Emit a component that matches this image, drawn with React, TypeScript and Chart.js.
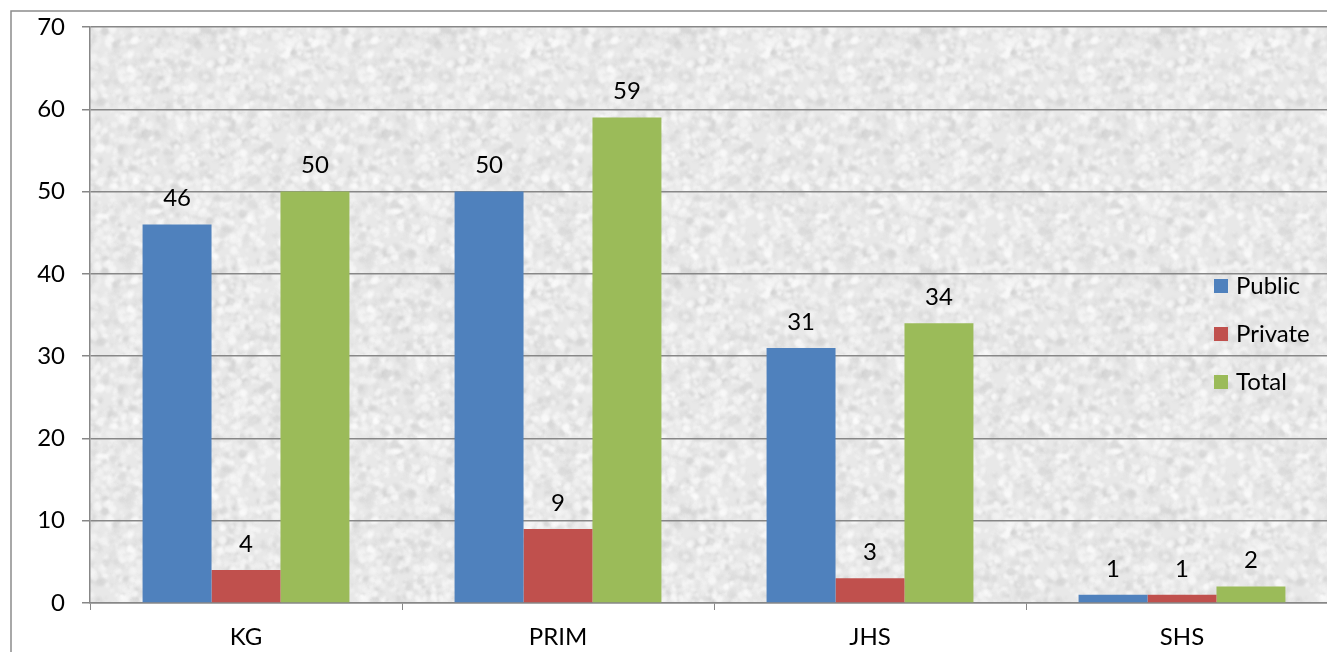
import React, { useEffect, useRef } from "react";
import { Chart, registerables } from "chart.js";

Chart.register(...registerables);

// School counts by level and ownership
const categories = ["KG", "PRIM", "JHS", "SHS"];
const publicSchools = [46, 50, 31, 1];
const privateSchools = [4, 9, 3, 1];
const totalSchools = [50, 59, 34, 2];
const seriesLabels = ["Public", "Private", "Total"];
const seriesColors = ["#4F81BD", "#C0504D", "#9BBB59"];

const FONT = "Lato, 'Liberation Sans', sans-serif";
const AXIS_GRAY = "#878787";

// Seeded generator so the granite texture is the same on every render
function makeRng(seed: number) {
  let s = seed >>> 0;
  return () => {
    s = (s * 1664525 + 1013904223) >>> 0;
    return s / 4294967296;
  };
}

function makeGranite(): HTMLCanvasElement {
  const size = 240;
  const c = document.createElement("canvas");
  c.width = size;
  c.height = size;
  const g = c.getContext("2d")!;
  g.fillStyle = "#e8e8e8";
  g.fillRect(0, 0, size, size);
  const rnd = makeRng(12345);
  g.filter = "blur(1.2px)";
  for (let i = 0; i < 2600; i++) {
    const x = rnd() * size;
    const y = rnd() * size;
    const r = 1 + rnd() * 3.5;
    const light = rnd() < 0.6;
    const v = light ? 244 + Math.floor(rnd() * 11) : 205 + Math.floor(rnd() * 20);
    g.fillStyle = `rgba(${v},${v},${v},${0.35 + rnd() * 0.4})`;
    for (const dx of [-size, 0, size]) {
      for (const dy of [-size, 0, size]) {
        g.beginPath();
        g.ellipse(x + dx, y + dy, r, r * (0.6 + rnd() * 0.6), rnd() * Math.PI, 0, Math.PI * 2);
        g.fill();
      }
    }
  }
  return c;
}

const plotBackground = {
  id: "plotBackground",
  beforeDraw(chart: any) {
    const { ctx, chartArea } = chart;
    const pattern = ctx.createPattern(makeGranite(), "repeat");
    ctx.save();
    ctx.fillStyle = pattern;
    ctx.fillRect(chartArea.left, chartArea.top, chartArea.right - chartArea.left, chartArea.bottom - chartArea.top);
    // outer frame of the chart object
    ctx.strokeStyle = "#8c8c8c";
    ctx.lineWidth = 1.5;
    ctx.strokeRect(11, 11, chart.width + 40, chart.height + 40);
    ctx.restore();
  },
};

const valueLabels = {
  id: "valueLabels",
  afterDatasetsDraw(chart: any) {
    const { ctx } = chart;
    ctx.save();
    ctx.font = `24px ${FONT}`;
    ctx.fillStyle = "#000";
    ctx.textAlign = "center";
    ctx.textBaseline = "middle";
    chart.data.datasets.forEach((ds: any, i: number) => {
      const meta = chart.getDatasetMeta(i);
      meta.data.forEach((el: any, j: number) => {
        ctx.fillText(String(ds.data[j]), el.x, el.y - 26);
      });
    });
    ctx.restore();
  },
};

const sideLegend = {
  id: "sideLegend",
  afterDraw(chart: any) {
    const { ctx } = chart;
    ctx.save();
    ctx.font = `24px ${FONT}`;
    ctx.textAlign = "left";
    ctx.textBaseline = "middle";
    chart.data.datasets.forEach((ds: any, i: number) => {
      const cy = 286 + i * 48;
      ctx.fillStyle = ds.backgroundColor;
      ctx.fillRect(1214, cy - 7, 14, 14);
      ctx.fillStyle = "#000";
      ctx.fillText(ds.label, 1236, cy);
    });
    ctx.restore();
  },
};

export default function App() {
  const ref = useRef<HTMLCanvasElement | null>(null);

  useEffect(() => {
    document.body.style.margin = "0";
    const canvas = ref.current!;
    const chart = new Chart(canvas, {
      type: "bar",
      data: {
        labels: categories,
        datasets: [publicSchools, privateSchools, totalSchools].map((d, i) => ({
          label: seriesLabels[i],
          data: d,
          backgroundColor: seriesColors[i],
          borderWidth: 0,
          categoryPercentage: 0.663,
          barPercentage: 1,
        })),
      },
      options: {
        responsive: false,
        animation: false,
        layout: { padding: { top: 27, left: 0, right: 0, bottom: 0 } },
        plugins: { legend: { display: false }, tooltip: { enabled: false } },
        scales: {
          x: {
            grid: {
              drawOnChartArea: false,
              color: AXIS_GRAY,
              tickLength: 7,
              offset: true,
            },
            border: { color: AXIS_GRAY, width: 1.5 },
            ticks: { font: { family: FONT, size: 24 }, color: "#000", padding: 13 },
            afterFit(scale: any) {
              scale.height = 49;
              scale.paddingLeft = 0;
              scale.paddingRight = 0;
            },
          },
          y: {
            min: 0,
            max: 70,
            ticks: { stepSize: 10, font: { family: FONT, size: 24 }, color: "#000", padding: 17 },
            grid: { color: AXIS_GRAY, lineWidth: 1.5, tickLength: 8 },
            border: { color: AXIS_GRAY, width: 1.5 },
            afterFit(scale: any) {
              scale.width = 90;
              scale.paddingTop = 0;
              scale.paddingBottom = 0;
            },
          },
        },
      },
      plugins: [plotBackground, valueLabels, sideLegend],
    });
    return () => chart.destroy();
  }, []);

  return (
    <div style={{ position: "absolute", left: 0, top: 0, width: 1327, height: 652, overflow: "hidden", background: "#fff" }}>
      <canvas ref={ref} width={1338} height={652} style={{ display: "block" }} />
    </div>
  );
}
